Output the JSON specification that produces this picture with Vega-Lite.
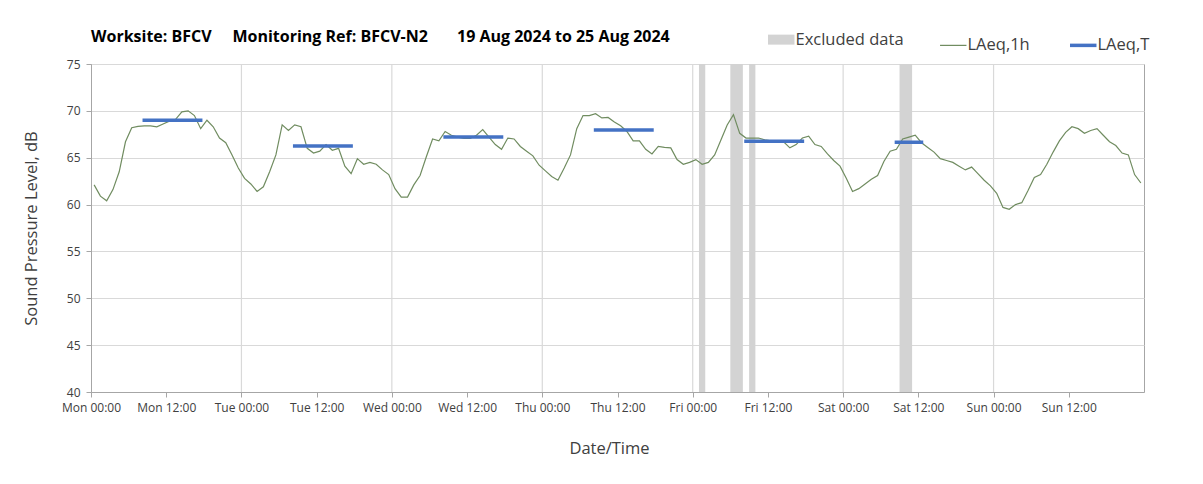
{
  "$schema": "https://vega.github.io/schema/vega-lite/v6.json",
  "width": 1053,
  "height": 328,
  "autosize": "none",
  "padding": {"left": 91, "top": 64, "right": 59, "bottom": 92},
  "background": "white",
  "config": {
    "font": "Open Sans",
    "view": {"stroke": "#a6a6a6", "strokeWidth": 1},
    "axis": {
      "labelFont": "Open Sans",
      "titleFont": "Open Sans",
      "labelColor": "#404040",
      "titleColor": "#404040",
      "titleFontWeight": "normal",
      "domainColor": "#a6a6a6",
      "tickColor": "#a6a6a6",
      "gridColor": "#d9d9d9",
      "gridWidth": 1.2
    }
  },
  "title": {
    "text": "Worksite: BFCV\u00a0\u00a0\u00a0\u00a0\u00a0Monitoring Ref: BFCV-N2\u00a0\u00a0\u00a0\u00a0\u00a0\u00a0\u00a019 Aug 2024 to 25 Aug 2024",
    "anchor": "start",
    "frame": "group",
    "fontSize": 16,
    "fontWeight": "bold",
    "color": "#000000",
    "font": "Open Sans",
    "offset": 20,
    "dy": 34
  },
  "datasets": {
    "days": [
      {"d": "2024-08-20T00:00:00Z"}, {"d": "2024-08-21T00:00:00Z"}, {"d": "2024-08-22T00:00:00Z"},
      {"d": "2024-08-23T00:00:00Z"}, {"d": "2024-08-24T00:00:00Z"}, {"d": "2024-08-25T00:00:00Z"}
    ],
    "hourly": [
      {"t": "2024-08-19T00:30:00Z", "v": 62.1}, {"t": "2024-08-19T01:30:00Z", "v": 60.9}, {"t": "2024-08-19T02:30:00Z", "v": 60.4}, {"t": "2024-08-19T03:30:00Z", "v": 61.6},
      {"t": "2024-08-19T04:30:00Z", "v": 63.5}, {"t": "2024-08-19T05:30:00Z", "v": 66.7}, {"t": "2024-08-19T06:30:00Z", "v": 68.2}, {"t": "2024-08-19T07:30:00Z", "v": 68.35},
      {"t": "2024-08-19T08:30:00Z", "v": 68.4}, {"t": "2024-08-19T09:30:00Z", "v": 68.4}, {"t": "2024-08-19T10:30:00Z", "v": 68.3}, {"t": "2024-08-19T11:30:00Z", "v": 68.6},
      {"t": "2024-08-19T12:30:00Z", "v": 68.9}, {"t": "2024-08-19T13:30:00Z", "v": 69.1}, {"t": "2024-08-19T14:30:00Z", "v": 69.9}, {"t": "2024-08-19T15:30:00Z", "v": 70.0},
      {"t": "2024-08-19T16:30:00Z", "v": 69.5}, {"t": "2024-08-19T17:30:00Z", "v": 68.1}, {"t": "2024-08-19T18:30:00Z", "v": 69.0}, {"t": "2024-08-19T19:30:00Z", "v": 68.3},
      {"t": "2024-08-19T20:30:00Z", "v": 67.1}, {"t": "2024-08-19T21:30:00Z", "v": 66.6}, {"t": "2024-08-19T22:30:00Z", "v": 65.3}, {"t": "2024-08-19T23:30:00Z", "v": 63.9},
      {"t": "2024-08-20T00:30:00Z", "v": 62.8}, {"t": "2024-08-20T01:30:00Z", "v": 62.2}, {"t": "2024-08-20T02:30:00Z", "v": 61.4}, {"t": "2024-08-20T03:30:00Z", "v": 61.9},
      {"t": "2024-08-20T04:30:00Z", "v": 63.5}, {"t": "2024-08-20T05:30:00Z", "v": 65.3}, {"t": "2024-08-20T06:30:00Z", "v": 68.5}, {"t": "2024-08-20T07:30:00Z", "v": 67.9},
      {"t": "2024-08-20T08:30:00Z", "v": 68.5}, {"t": "2024-08-20T09:30:00Z", "v": 68.3}, {"t": "2024-08-20T10:30:00Z", "v": 66.0}, {"t": "2024-08-20T11:30:00Z", "v": 65.5},
      {"t": "2024-08-20T12:30:00Z", "v": 65.7}, {"t": "2024-08-20T13:30:00Z", "v": 66.4}, {"t": "2024-08-20T14:30:00Z", "v": 65.8}, {"t": "2024-08-20T15:30:00Z", "v": 66.0},
      {"t": "2024-08-20T16:30:00Z", "v": 64.1}, {"t": "2024-08-20T17:30:00Z", "v": 63.3}, {"t": "2024-08-20T18:30:00Z", "v": 64.9}, {"t": "2024-08-20T19:30:00Z", "v": 64.3},
      {"t": "2024-08-20T20:30:00Z", "v": 64.5}, {"t": "2024-08-20T21:30:00Z", "v": 64.3}, {"t": "2024-08-20T22:30:00Z", "v": 63.7}, {"t": "2024-08-20T23:30:00Z", "v": 63.2},
      {"t": "2024-08-21T00:30:00Z", "v": 61.7}, {"t": "2024-08-21T01:30:00Z", "v": 60.8}, {"t": "2024-08-21T02:30:00Z", "v": 60.8}, {"t": "2024-08-21T03:30:00Z", "v": 62.1},
      {"t": "2024-08-21T04:30:00Z", "v": 63.1}, {"t": "2024-08-21T05:30:00Z", "v": 65.1}, {"t": "2024-08-21T06:30:00Z", "v": 67.0}, {"t": "2024-08-21T07:30:00Z", "v": 66.8},
      {"t": "2024-08-21T08:30:00Z", "v": 67.8}, {"t": "2024-08-21T09:30:00Z", "v": 67.4}, {"t": "2024-08-21T10:30:00Z", "v": 67.2}, {"t": "2024-08-21T11:30:00Z", "v": 67.05},
      {"t": "2024-08-21T12:30:00Z", "v": 67.05}, {"t": "2024-08-21T13:30:00Z", "v": 67.4}, {"t": "2024-08-21T14:30:00Z", "v": 68.0}, {"t": "2024-08-21T15:30:00Z", "v": 67.2},
      {"t": "2024-08-21T16:30:00Z", "v": 66.4}, {"t": "2024-08-21T17:30:00Z", "v": 65.9}, {"t": "2024-08-21T18:30:00Z", "v": 67.1}, {"t": "2024-08-21T19:30:00Z", "v": 67.0},
      {"t": "2024-08-21T20:30:00Z", "v": 66.2}, {"t": "2024-08-21T21:30:00Z", "v": 65.7}, {"t": "2024-08-21T22:30:00Z", "v": 65.2}, {"t": "2024-08-21T23:30:00Z", "v": 64.2},
      {"t": "2024-08-22T00:30:00Z", "v": 63.6}, {"t": "2024-08-22T01:30:00Z", "v": 63.0}, {"t": "2024-08-22T02:30:00Z", "v": 62.6}, {"t": "2024-08-22T03:30:00Z", "v": 63.9},
      {"t": "2024-08-22T04:30:00Z", "v": 65.3}, {"t": "2024-08-22T05:30:00Z", "v": 68.1}, {"t": "2024-08-22T06:30:00Z", "v": 69.5}, {"t": "2024-08-22T07:30:00Z", "v": 69.5},
      {"t": "2024-08-22T08:30:00Z", "v": 69.7}, {"t": "2024-08-22T09:30:00Z", "v": 69.25}, {"t": "2024-08-22T10:30:00Z", "v": 69.3}, {"t": "2024-08-22T11:30:00Z", "v": 68.8},
      {"t": "2024-08-22T12:30:00Z", "v": 68.4}, {"t": "2024-08-22T13:30:00Z", "v": 67.8}, {"t": "2024-08-22T14:30:00Z", "v": 66.8}, {"t": "2024-08-22T15:30:00Z", "v": 66.8},
      {"t": "2024-08-22T16:30:00Z", "v": 65.9}, {"t": "2024-08-22T17:30:00Z", "v": 65.4}, {"t": "2024-08-22T18:30:00Z", "v": 66.2}, {"t": "2024-08-22T19:30:00Z", "v": 66.1},
      {"t": "2024-08-22T20:30:00Z", "v": 66.05}, {"t": "2024-08-22T21:30:00Z", "v": 64.8}, {"t": "2024-08-22T22:30:00Z", "v": 64.3}, {"t": "2024-08-22T23:30:00Z", "v": 64.5},
      {"t": "2024-08-23T00:30:00Z", "v": 64.8}, {"t": "2024-08-23T01:30:00Z", "v": 64.3}, {"t": "2024-08-23T02:30:00Z", "v": 64.5}, {"t": "2024-08-23T03:30:00Z", "v": 65.3},
      {"t": "2024-08-23T04:30:00Z", "v": 66.9}, {"t": "2024-08-23T05:30:00Z", "v": 68.5}, {"t": "2024-08-23T06:30:00Z", "v": 69.6}, {"t": "2024-08-23T07:30:00Z", "v": 67.6},
      {"t": "2024-08-23T08:30:00Z", "v": 67.1}, {"t": "2024-08-23T09:30:00Z", "v": 67.1}, {"t": "2024-08-23T10:30:00Z", "v": 67.1}, {"t": "2024-08-23T11:30:00Z", "v": 66.9},
      {"t": "2024-08-23T12:30:00Z", "v": 66.8}, {"t": "2024-08-23T13:30:00Z", "v": 66.8}, {"t": "2024-08-23T14:30:00Z", "v": 66.7}, {"t": "2024-08-23T15:30:00Z", "v": 66.05},
      {"t": "2024-08-23T16:30:00Z", "v": 66.4}, {"t": "2024-08-23T17:30:00Z", "v": 67.1}, {"t": "2024-08-23T18:30:00Z", "v": 67.3}, {"t": "2024-08-23T19:30:00Z", "v": 66.4},
      {"t": "2024-08-23T20:30:00Z", "v": 66.2}, {"t": "2024-08-23T21:30:00Z", "v": 65.4}, {"t": "2024-08-23T22:30:00Z", "v": 64.7}, {"t": "2024-08-23T23:30:00Z", "v": 64.1},
      {"t": "2024-08-24T00:30:00Z", "v": 62.8}, {"t": "2024-08-24T01:30:00Z", "v": 61.4}, {"t": "2024-08-24T02:30:00Z", "v": 61.7}, {"t": "2024-08-24T03:30:00Z", "v": 62.2},
      {"t": "2024-08-24T04:30:00Z", "v": 62.7}, {"t": "2024-08-24T05:30:00Z", "v": 63.1}, {"t": "2024-08-24T06:30:00Z", "v": 64.6}, {"t": "2024-08-24T07:30:00Z", "v": 65.7},
      {"t": "2024-08-24T08:30:00Z", "v": 65.9}, {"t": "2024-08-24T09:30:00Z", "v": 67.0}, {"t": "2024-08-24T10:30:00Z", "v": 67.2}, {"t": "2024-08-24T11:30:00Z", "v": 67.4},
      {"t": "2024-08-24T12:30:00Z", "v": 66.6}, {"t": "2024-08-24T13:30:00Z", "v": 66.1}, {"t": "2024-08-24T14:30:00Z", "v": 65.6}, {"t": "2024-08-24T15:30:00Z", "v": 64.9},
      {"t": "2024-08-24T16:30:00Z", "v": 64.7}, {"t": "2024-08-24T17:30:00Z", "v": 64.5}, {"t": "2024-08-24T18:30:00Z", "v": 64.1}, {"t": "2024-08-24T19:30:00Z", "v": 63.7},
      {"t": "2024-08-24T20:30:00Z", "v": 64.0}, {"t": "2024-08-24T21:30:00Z", "v": 63.3}, {"t": "2024-08-24T22:30:00Z", "v": 62.6}, {"t": "2024-08-24T23:30:00Z", "v": 62.0},
      {"t": "2024-08-25T00:30:00Z", "v": 61.2}, {"t": "2024-08-25T01:30:00Z", "v": 59.7}, {"t": "2024-08-25T02:30:00Z", "v": 59.5}, {"t": "2024-08-25T03:30:00Z", "v": 60.0},
      {"t": "2024-08-25T04:30:00Z", "v": 60.2}, {"t": "2024-08-25T05:30:00Z", "v": 61.5}, {"t": "2024-08-25T06:30:00Z", "v": 62.9}, {"t": "2024-08-25T07:30:00Z", "v": 63.2},
      {"t": "2024-08-25T08:30:00Z", "v": 64.3}, {"t": "2024-08-25T09:30:00Z", "v": 65.6}, {"t": "2024-08-25T10:30:00Z", "v": 66.8}, {"t": "2024-08-25T11:30:00Z", "v": 67.7},
      {"t": "2024-08-25T12:30:00Z", "v": 68.3}, {"t": "2024-08-25T13:30:00Z", "v": 68.1}, {"t": "2024-08-25T14:30:00Z", "v": 67.6}, {"t": "2024-08-25T15:30:00Z", "v": 67.9},
      {"t": "2024-08-25T16:30:00Z", "v": 68.1}, {"t": "2024-08-25T17:30:00Z", "v": 67.4}, {"t": "2024-08-25T18:30:00Z", "v": 66.7}, {"t": "2024-08-25T19:30:00Z", "v": 66.3},
      {"t": "2024-08-25T20:30:00Z", "v": 65.5}, {"t": "2024-08-25T21:30:00Z", "v": 65.3}, {"t": "2024-08-25T22:30:00Z", "v": 63.2}, {"t": "2024-08-25T23:30:00Z", "v": 62.3}
    ],
    "period": [
      {"day": "Mon", "t": "2024-08-19T08:30:00Z", "v": 69.0}, {"day": "Mon", "t": "2024-08-19T17:30:00Z", "v": 69.0},
      {"day": "Tue", "t": "2024-08-20T08:30:00Z", "v": 66.25}, {"day": "Tue", "t": "2024-08-20T17:30:00Z", "v": 66.25},
      {"day": "Wed", "t": "2024-08-21T08:30:00Z", "v": 67.2}, {"day": "Wed", "t": "2024-08-21T17:30:00Z", "v": 67.2},
      {"day": "Thu", "t": "2024-08-22T08:30:00Z", "v": 67.95}, {"day": "Thu", "t": "2024-08-22T17:30:00Z", "v": 67.95},
      {"day": "Fri", "t": "2024-08-23T08:30:00Z", "v": 66.75}, {"day": "Fri", "t": "2024-08-23T17:30:00Z", "v": 66.75},
      {"day": "Sat", "t": "2024-08-24T08:30:00Z", "v": 66.65}, {"day": "Sat", "t": "2024-08-24T12:30:00Z", "v": 66.65}
    ],
    "excluded": [
      {"start": "2024-08-23T01:00:00Z", "end": "2024-08-23T02:00:00Z"},
      {"start": "2024-08-23T06:00:00Z", "end": "2024-08-23T08:00:00Z"},
      {"start": "2024-08-23T09:00:00Z", "end": "2024-08-23T10:00:00Z"},
      {"start": "2024-08-24T09:00:00Z", "end": "2024-08-24T11:00:00Z"}
    ]
  },
  "layer": [
    {
      "data": {"name": "days"},
      "mark": {"type": "rule", "color": "#d9d9d9", "strokeWidth": 1.2},
      "encoding": {
        "x": {
          "field": "d",
          "type": "temporal",
          "title": "Date/Time",
          "scale": {"type": "utc", "nice": false, "domain": [1724025600000, 1724630400000]},
          "axis": {
            "format": "%a %H:%M",
            "values": [1724025600000, 1724068800000, 1724112000000, 1724155200000, 1724198400000, 1724241600000, 1724284800000, 1724328000000, 1724371200000, 1724414400000, 1724457600000, 1724500800000, 1724544000000, 1724587200000],
            "grid": false,
            "labelFontSize": 12,
            "labelPadding": 5,
            "labelFlush": false,
            "labelOverlap": false,
            "tickSize": 5,
            "titleFontSize": 16.5,
            "titlePadding": 27,
            "titleX": 518
          }
        }
      }
    },
    {
      "data": {"name": "excluded"},
      "mark": {"type": "rect"},
      "encoding": {
        "x": {"field": "start", "type": "temporal", "title": "Date/Time"},
        "x2": {"field": "end"},
        "color": {
          "datum": "Excluded data",
          "type": "nominal",
          "scale": {"domain": ["Excluded data", "LAeq,1h", "LAeq,T"], "range": ["#d3d3d3", "#708c60", "#4472c4"]},
          "legend": {
            "orient": "none",
            "legendX": 682,
            "legendY": -33,
            "direction": "horizontal",
            "title": null,
            "labelFont": "Open Sans",
            "labelFontSize": 16.5,
            "labelColor": "#404040",
            "symbolSize": 700,
            "labelOffset": 6,
            "columnPadding": 33,
            "symbolType": "stroke",
            "symbolStrokeWidth": 2,
            "encode": {
              "symbols": {
                "update": {
                  "strokeWidth": {"signal": "datum.value === 'Excluded data' ? 10 : (datum.value === 'LAeq,T' ? 3.5 : 1.2)"}
                }
              }
            }
          }
        }
      }
    },
    {
      "data": {"name": "hourly"},
      "mark": {"type": "line", "strokeWidth": 1.2},
      "encoding": {
        "x": {"field": "t", "type": "temporal", "title": "Date/Time"},
        "y": {
          "field": "v",
          "type": "quantitative",
          "title": "Sound Pressure Level, dB",
          "scale": {"domain": [40, 75]},
          "axis": {
            "values": [40, 45, 50, 55, 60, 65, 70, 75],
            "labelFontSize": 12,
            "labelPadding": 6,
            "tickSize": 5,
            "titleFontSize": 16.5,
            "titlePadding": 27
          }
        },
        "color": {"datum": "LAeq,1h", "type": "nominal"}
      }
    },
    {
      "data": {"name": "period"},
      "mark": {"type": "line", "strokeWidth": 3.5, "strokeCap": "square"},
      "encoding": {
        "x": {"field": "t", "type": "temporal", "title": "Date/Time"},
        "y": {"field": "v", "type": "quantitative", "title": "Sound Pressure Level, dB"},
        "detail": {"field": "day"},
        "color": {"datum": "LAeq,T", "type": "nominal"}
      }
    }
  ]
}
